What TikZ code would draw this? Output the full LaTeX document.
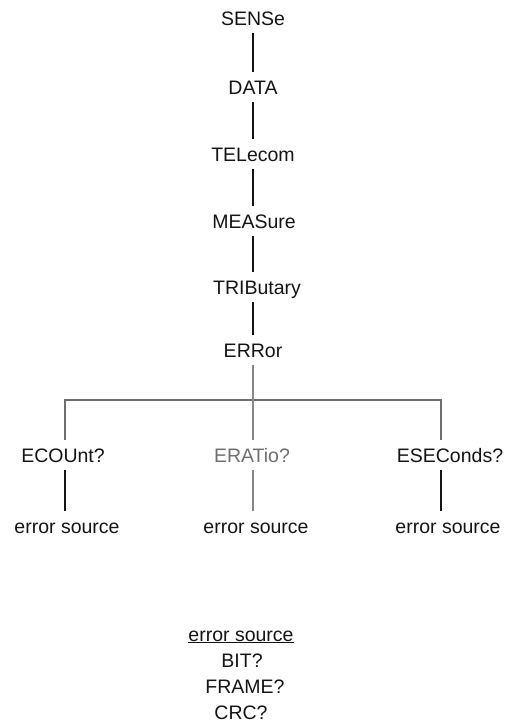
\documentclass[tikz,border=0pt]{standalone}
\usepackage{fontspec}
\setmainfont{Liberation Sans}
\usepackage{xcolor}
\usetikzlibrary{positioning}

\definecolor{inkdark}{HTML}{141414}
\definecolor{inkgray}{HTML}{6E6E6E}
\definecolor{inklight}{HTML}{858585}

\tikzset{
  lbl/.style={font=\fontsize{19.5}{22}\selectfont, text=inkdark, inner xsep=0pt,
    inner ysep=8pt, text height=14pt, text depth=0pt},
  stem/.style={draw=inkdark, line width=2.6pt},
  bar/.style={draw=inkgray, line width=2.6pt}
}

\begin{document}
\begin{tikzpicture}[x=1pt, y=-1pt]
            \useasboundingbox (0,0) rectangle (506,723);
            % command chain
            \node[lbl] (sense) at (253,18) {SENSe};
            \node[lbl] (data) at (253,87) {DATA};
            \node[lbl] (telecom) at (253,154) {TELecom};
            \node[lbl] (measure) at (254,221) {MEASure};
            \node[lbl] (tributary) at (257,287) {TRIButary};
            \node[lbl] (error) at (253,350) {ERRor};
            \draw[stem] (sense) -- (data);
            \draw[stem] (data) -- (telecom);
            \draw[stem] (telecom) -- (measure.north -| telecom);
            \draw[stem] (measure.south -| error) -- (tributary.north -| error);
            \draw[stem] (tributary.south -| error) -- (error);

            % queries
            \node[lbl] (ecount) at (63,455) {ECOUnt?};
            \node[lbl, text=inkgray] (eratio) at (252,455) {ERATio?};
            \node[lbl] (eseconds) at (450,455) {ESEConds?};
            \node[lbl] (src1) at (67,526) {error source};
            \node[lbl] (src2) at (256,526) {error source};
            \node[lbl] (src3) at (448,526) {error source};

            \coordinate (barL) at (65,400);
            \coordinate (barR) at (441,400);
            \draw[bar] (barL |- ecount.north) -- (barL) -- (barR) -- (barR |- eseconds.north);
            \draw[draw=inklight, line width=1.6pt] (error) -- (eratio.north -| error);
            \draw[stem] (ecount.south -| barL) -- (src1.north -| barL);
            \draw[draw=inklight, line width=2.6pt] (eratio.south -| error) -- (src2.north -| error);
            \draw[stem] (eseconds.south -| barR) -- (src3.north -| barR);

            % legend
            \node[lbl] (srckey) at (241,634) {\underline{error source}};
            \node[lbl] (bit) at (242,660) {BIT?};
            \node[lbl] (frame) at (245,686) {FRAME?};
            \node[lbl] (crc) at (241,712) {CRC?};
        \end{tikzpicture}
\end{document}
